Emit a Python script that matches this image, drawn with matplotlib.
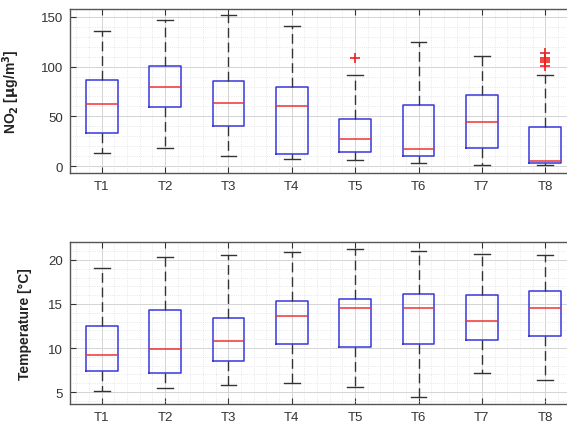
import matplotlib
matplotlib.use('Agg')
import matplotlib.pyplot as plt
from matplotlib.ticker import MultipleLocator

plt.rcParams['font.family'] = ['Liberation Sans', 'DejaVu Sans']

sites = ['T1', 'T2', 'T3', 'T4', 'T5', 'T6', 'T7', 'T8']

# NO2 box statistics per site
no2_whislo = [13.4, 18.0, 10.0, 7.0, 6.0, 3.0, 1.0, 0.6]
no2_q1 = [33.5, 59.3, 40.2, 11.7, 13.7, 10.0, 18.4, 3.3]
no2_med = [62.0, 80.0, 63.7, 60.7, 27.0, 16.7, 44.6, 5.3]
no2_q3 = [87.0, 101.0, 86.0, 80.0, 47.0, 61.0, 71.7, 39.5]
no2_whishi = [135.4, 147.0, 152.0, 140.5, 91.5, 124.7, 110.7, 92.0]
no2_fliers = [[], [], [], [], [109.0], [], [], [101.0, 105.0, 106.5, 109.0, 114.0]]

# temperature box statistics per site
temp_whislo = [5.07, 5.52, 5.82, 6.0, 5.56, 4.44, 7.14, 6.42]
temp_q1 = [7.44, 7.21, 8.53, 10.45, 10.14, 10.48, 10.86, 11.42]
temp_med = [9.24, 9.92, 10.75, 13.68, 14.5, 14.5, 13.07, 14.54]
temp_q3 = [12.55, 14.36, 13.45, 15.33, 15.55, 16.12, 16.0, 16.53]
temp_whishi = [19.1, 20.33, 20.6, 20.85, 21.27, 21.04, 20.67, 20.6]
temp_fliers = [[] for _ in sites]


def make_stats(lo, q1, med, q3, hi, fl):
    return [dict(whislo=a, q1=b, med=c, q3=d, whishi=e, fliers=f, label=s)
            for a, b, c, d, e, f, s in zip(lo, q1, med, q3, hi, fl, sites)]


def draw_panel(ax, stats, ylim, major, minor, ylabel, label_x):
    ax.bxp(stats, widths=0.5, showfliers=True,
           boxprops=dict(color='#3838dd', lw=1.1),
           medianprops=dict(color='#ee3333', lw=1.1),
           whiskerprops=dict(color='#333333', lw=1.0, linestyle=(0, (7, 3.5))),
           capprops=dict(color='#333333', lw=1.0),
           capwidths=0.25,
           flierprops=dict(marker='+', markeredgecolor='#ee2222',
                           markersize=7, markeredgewidth=1.2))
    ax.set_xlim(0.5, 8.5)
    ax.set_ylim(*ylim)
    ax.yaxis.set_major_locator(MultipleLocator(major))
    ax.yaxis.set_minor_locator(MultipleLocator(minor))
    ax.xaxis.set_minor_locator(MultipleLocator(0.2))
    ax.grid(True, which='major', color='#d4d4d4', lw=0.7)
    ax.grid(True, which='minor', color='#e0e0e0', lw=0.6, linestyle=':')
    ax.set_axisbelow(True)
    ax.tick_params(which='major', direction='in', length=4, width=0.8,
                   labelsize=9.5, colors='#333333', top=True, right=True, pad=5)
    ax.tick_params(which='minor', length=0)
    for sp in ax.spines.values():
        sp.set_color('#555555')
        sp.set_linewidth(1.0)
    ax.set_ylabel(ylabel, fontsize=10, fontweight='bold', color='#222222')
    ax.yaxis.set_label_coords(label_x, 0.5)


fig = plt.figure(figsize=(5.67, 4.27), dpi=100)
ax1 = fig.add_axes([0.1235, 0.5925, 0.894, 0.384])
ax2 = fig.add_axes([0.1235, 0.0505, 0.894, 0.3797])

draw_panel(ax1, make_stats(no2_whislo, no2_q1, no2_med, no2_q3, no2_whishi, no2_fliers),
           (-7, 158), 50, 10, r'NO$_\mathbf{2}$ [$\mathbf{\mu}$g/m$^\mathbf{3}$]', -0.095)
draw_panel(ax2, make_stats(temp_whislo, temp_q1, temp_med, temp_q3, temp_whishi, temp_fliers),
           (3.6, 22.0), 5, 1, 'Temperature [°C]', -0.075)

fig.savefig('out.png', dpi=100)
